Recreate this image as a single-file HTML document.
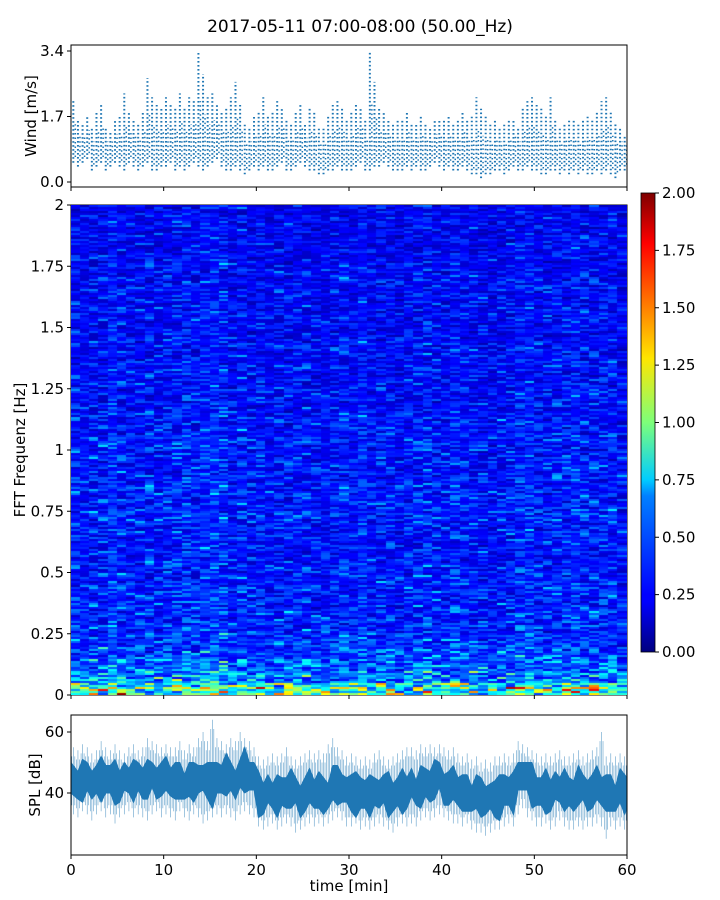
<!DOCTYPE html>
<html><head><meta charset="utf-8">
<style>
body{margin:0;background:#fff;width:720px;height:900px;overflow:hidden;position:relative;font-family:"DejaVu Sans","Liberation Sans",sans-serif;}
svg{position:absolute;left:0;top:0}
canvas{position:absolute;left:71px;top:205px}
text{font-family:"DejaVu Sans","Liberation Sans",sans-serif;fill:#000}
</style></head>
<body>
<svg id="svg" width="720" height="900">
<defs>
<linearGradient id="jet" x1="0" y1="1" x2="0" y2="0">
<stop offset="0" stop-color="#00007f"/><stop offset="0.11" stop-color="#0000ff"/>
<stop offset="0.125" stop-color="#0000ff"/><stop offset="0.34" stop-color="#0080ff"/>
<stop offset="0.375" stop-color="#00ccff"/><stop offset="0.5" stop-color="#7dff7a"/>
<stop offset="0.64" stop-color="#ffe600"/><stop offset="0.75" stop-color="#ff8000"/>
<stop offset="0.89" stop-color="#ff0000"/><stop offset="1" stop-color="#7f0000"/>
</linearGradient>
</defs>
<text x="360" y="32" font-size="17" text-anchor="middle">2017-05-11 07:00-08:00 (50.00_Hz)</text>
<g id="wind"></g>
<g id="spec"></g>
<g id="cbar"></g>
<g id="spl"></g>
</svg>
<canvas id="cv" width="556" height="490"></canvas>
<script>
// ---- data ----
const timeTicks=[0,10,20,30,40,50,60];
const windTicks=[0.0,1.7,3.4];
const windTickLabels=["0.0","1.7","3.4"];
const windLo=[0.5,0.4,0.5,0.6,0.3,0.4,0.5,0.3,0.4,0.5,0.4,0.3,0.5,0.4,0.3,0.4,0.5,0.3,0.3,0.4,
0.4,0.5,0.3,0.4,0.3,0.4,0.5,0.4,0.3,0.4,0.5,0.6,0.4,0.3,0.3,0.4,0.3,0.2,0.3,0.4,
0.3,0.4,0.3,0.3,0.4,0.5,0.3,0.3,0.4,0.5,0.4,0.3,0.3,0.2,0.2,0.3,0.3,0.4,0.3,0.3,
0.3,0.4,0.5,0.3,0.3,0.4,0.4,0.5,0.4,0.3,0.3,0.3,0.4,0.3,0.4,0.3,0.3,0.4,0.5,0.4,
0.3,0.4,0.3,0.3,0.4,0.3,0.2,0.2,0.1,0.2,0.2,0.3,0.3,0.2,0.3,0.4,0.3,0.3,0.4,0.3,
0.3,0.2,0.2,0.3,0.3,0.2,0.3,0.2,0.3,0.2,0.3,0.2,0.2,0.3,0.2,0.3,0.2,0.1,0.3,0.3];
const windHi=[2.1,1.6,1.5,1.7,1.4,1.8,2.0,1.4,1.3,1.6,1.7,2.3,1.8,1.6,1.5,1.8,2.7,2.2,2.0,1.9,
2.2,2.0,1.9,2.3,1.9,2.2,2.1,3.4,2.8,2.2,2.3,2.0,1.8,1.9,2.2,2.6,2.0,1.5,1.4,1.7,
1.8,2.2,1.7,1.8,2.1,1.9,1.6,1.5,1.8,2.0,1.5,1.9,1.8,1.4,1.4,1.7,2.0,2.1,1.9,1.6,
1.8,2.0,1.9,1.6,3.4,2.6,1.9,1.8,1.6,1.5,1.6,1.6,1.8,1.5,1.5,1.7,1.5,1.4,1.6,1.6,
1.6,1.7,1.5,1.6,1.8,1.6,1.7,2.2,1.9,1.7,1.5,1.6,1.4,1.5,1.6,1.6,1.4,1.9,2.1,2.2,
2.0,1.9,1.7,2.2,1.6,1.4,1.5,1.6,1.6,1.5,1.6,1.7,1.6,1.8,2.1,2.2,1.8,1.5,1.4,1.2];
const freqTicks=[0,0.25,0.5,0.75,1,1.25,1.5,1.75,2];
const freqTickLabels=["0","0.25","0.5","0.75","1","1.25","1.5","1.75","2"];
const rowProfile=[0.8,0.55,0.45,0.4,0.37,0.35,0.34,0.33,0.32,0.31,0.31,0.31,0.3,0.31,0.32,0.31,0.32,0.33,0.31,0.3,
0.31,0.3,0.3,0.29,0.29,0.28,0.28,0.27,0.28,0.27,0.28,0.27,0.26,0.27,0.26,0.27,0.26,0.25,0.25,0.24,0.24];
const colFactor=[1.0,1.0,0.95,0.95,1.05,1.0,1.0,1.05,1.0,0.95,1.0,1.05,1.05,1.0,1.0,1.05,1.1,1.0,1.0,1.05,
1.0,0.9,0.95,0.95,0.9,0.95,1.0,1.0,1.05,1.05,1.1,1.0,0.95,0.95,0.9,0.95,1.0,1.0,1.0,1.05,
1.05,1.0,1.0,0.95,0.9,0.95,0.95,1.0,1.05,1.0,1.0,0.95,0.95,0.95,1.0,1.0,1.05,1.0,1.0,1.05];
const texA=[0.8,1.3,0.5,1.0,1.6,0.7,0.9,1.2,0.4,1.1,0.8,1.4,0.6,1.0,1.8,0.9,0.5,1.2,1.0,0.7,
1.3,0.8,1.1,0.6,1.5,0.9,0.7,1.2,1.0,0.5,1.4,0.8,1.1,0.9,0.6,1.3,1.0];
const texB=[1.0,0.8,1.2,0.9,1.1,0.75,1.3,1.0,0.85,1.15,0.9,1.25,0.8,1.05,0.95,1.2,0.7,1.1,1.0,0.9,
1.3,0.85,1.0,1.1,0.8,1.2,0.95,1.05,0.9];
const cbTicks=[0,0.25,0.5,0.75,1,1.25,1.5,1.75,2];
const splTicks=[40,60];
const splMid=[44,43,44,45,44,43,44,45,44,44,43,44,45,44,45,44,43,44,45,45,
45,44,44,45,44,43,44,45,44,44,43,44,45,46,45,44,45,47,46,45,
40,39,40,40,39,40,41,40,39,39,40,41,40,41,40,41,42,43,42,40,
40,40,39,40,39,40,41,40,39,39,40,41,41,42,41,42,43,43,43,44,
43,42,42,41,40,41,40,39,39,38,38,38,39,40,41,40,45,47,44,42,
41,40,41,40,41,42,41,40,40,41,40,41,41,42,41,40,41,40,41,40];
const splMax=[55,54,56,55,53,54,57,55,54,56,54,53,55,56,54,55,58,57,56,55,
56,55,55,57,54,56,55,58,60,57,64,58,57,56,58,57,60,58,57,55,
52,51,52,53,52,53,55,52,51,52,53,54,53,54,53,56,58,55,54,52,
53,52,51,52,51,53,54,52,51,52,53,54,55,55,54,56,55,56,55,56,
55,54,55,53,52,53,51,52,50,51,50,52,52,53,52,53,57,56,55,54,
53,52,53,52,53,54,52,52,53,54,52,53,54,55,60,52,53,52,53,52];
const splMin=[33,32,34,33,31,33,34,32,33,30,32,33,34,32,33,32,31,33,34,32,
33,32,31,34,32,31,33,32,30,31,32,33,32,33,32,31,33,34,33,32,
29,28,29,30,28,29,30,29,27,28,29,30,29,30,29,30,31,32,31,29,
29,30,28,29,28,29,30,29,28,27,29,30,29,30,29,31,32,31,32,33,
32,31,30,30,29,30,28,27,27,26,27,28,28,29,30,29,33,35,32,31,
29,29,30,28,29,31,29,28,28,29,28,29,29,30,29,25,29,28,29,28];
const splJag=[1,-1,2,0,-2,1,3,-1,0,2,-1,1,-2,2,0,-1,3,1,-2,0,2,-1,1,0,-3,2,1,-1,0,1,2];

// ---- helpers ----
const NS="http://www.w3.org/2000/svg";
function mk(parent,tag,attrs,txt){const e=document.createElementNS(NS,tag);for(const k in attrs)e.setAttribute(k,attrs[k]);if(txt!==undefined)e.textContent=txt;parent.appendChild(e);return e;}
const X0=71,X1=627;
const xT=t=>X0+(t/60)*(X1-X0);
const yW=v=>182-v*(182-51)/3.4;
const yF=f=>695-f*245;
const yS=d=>793-(d-40)*(793-732)/20;
const yC=v=>652-v*(652-193)/2;
const BLUE="#1f77b4";

// ---- wind panel ----
const gw=document.getElementById('wind');
const nW=windHi.length, bw=60/nW;
for(let i=0;i<nW;i++){
  const x=xT((i+0.5)*bw);
  const l=mk(gw,'line',{x1:x,x2:x,y1:yW(windLo[i]),y2:yW(windHi[i]),stroke:BLUE,'stroke-width':2,'stroke-dasharray':'1.6,2.4'});
  
  
  const l2=mk(gw,'line',{x1:x+2,x2:x+2,y1:yW(windLo[i]+0.15),y2:yW((windLo[i]+windHi[i])/2+0.2),stroke:BLUE,'stroke-width':1.5,'stroke-dasharray':'1.5,3'});
  
  
}
mk(gw,'rect',{x:X0,y:45,width:X1-X0,height:142,fill:'none',stroke:'#000','stroke-width':1});
windTicks.forEach((v,i)=>{const y=yW(v);mk(gw,'line',{x1:X0-4,x2:X0,y1:y,y2:y,stroke:'#000'});
 const t=mk(gw,'text',{x:X0-7,y:y+5,'font-size':15,'text-anchor':'end'},windTickLabels[i]);
 });
timeTicks.forEach(t=>mk(gw,'line',{x1:xT(t),x2:xT(t),y1:187,y2:191,stroke:'#000'}));
mk(gw,'text',{x:36,y:116,'font-size':15,'text-anchor':'middle',transform:'rotate(-90 36 116)',},'Wind [m/s]');

// ---- spectrogram ----
function jet(x){x=Math.max(0,Math.min(1,x));const c=v=>Math.round(255*Math.max(0,Math.min(1,v)));
 return 'rgb('+c(1.5-Math.abs(4*x-3))+','+c(1.5-Math.abs(4*x-2))+','+c(1.5-Math.abs(4*x-1))+')';}
const cv=document.getElementById('cv'),ctx=cv.getContext('2d');
const nRows=245,nCols=colFactor.length,cw=556/nCols;
for(let c=0;c<nCols;c++){for(let r=0;r<nRows;r++){
  const f=(r+0.5)*2/nRows;
  let base=rowProfile[Math.min(rowProfile.length-1,Math.floor(f/0.05))];
  if(r<4)base=0.95;
  const ia=(r*r*3+c*17+r*c+ (c*c)%11)%texA.length;
  const ib=(r*7+c*c*5+((r*c)>>2))%texB.length;
  const v=base*colFactor[c]*texA[ia]*texB[ib];
  ctx.fillStyle=jet(v/2);
  ctx.fillRect(Math.floor(c*cw),490-(r+1)*2,Math.ceil(cw)+1,2);
}}
const gs=document.getElementById('spec');
mk(gs,'rect',{x:X0,y:205,width:X1-X0,height:490,fill:'none',stroke:'#000'});
freqTicks.forEach((f,i)=>{const y=yF(f);mk(gs,'line',{x1:X0-4,x2:X0,y1:y,y2:y,stroke:'#000'});
 const t=mk(gs,'text',{x:X0-7,y:y+5,'font-size':15,'text-anchor':'end'},freqTickLabels[i]);
 });
timeTicks.forEach(t=>mk(gs,'line',{x1:xT(t),x2:xT(t),y1:695,y2:699,stroke:'#000'}));
mk(gs,'text',{x:25,y:450,'font-size':15,'text-anchor':'middle',transform:'rotate(-90 25 450)',},'FFT Frequenz [Hz]');

// ---- colorbar ----
const gc=document.getElementById('cbar');
mk(gc,'rect',{x:641,y:193,width:14,height:459,fill:'url(#jet)',stroke:'#000','stroke-width':0.8});
cbTicks.forEach(v=>{const y=yC(v);mk(gc,'line',{x1:655,x2:659,y1:y,y2:y,stroke:'#000'});
 const t=mk(gc,'text',{x:662,y:y+5,'font-size':15},v.toFixed(2));
 });

// ---- SPL ----
const gp=document.getElementById('spl');
const mS=splMid.length,sw=60/mS;
for(let i=0;i<mS;i++){
  const x=xT((i+0.5)*sw);
  for(let k=-1;k<=1;k++){
    const l=mk(gp,'line',{x1:x+k*1.5,x2:x+k*1.5,y1:yS(splMin[i]+(k===0?0:3)),y2:yS(splMax[i]-(k===0?0:3)),stroke:BLUE,'stroke-width':0.6,opacity:0.7});
    
    
  }
}
let topPath='',botPath='';
for(let i=0;i<mS;i++){const x=xT(i===0?0:i*sw+sw/2);topPath+=(i?'L':'M')+x+','+yS(splMid[i]+5+splJag[i%splJag.length]);}
topPath+='L'+xT(60)+','+yS(splMid[mS-1]+5);
botPath='L'+xT(60)+','+yS(splMid[mS-1]-5);
for(let i=mS-1;i>=0;i--){const x=xT(i===0?0:i*sw+sw/2);botPath+='L'+x+','+yS(splMid[i]-5-splJag[(i+7)%splJag.length]);}
const area=mk(gp,'path',{d:topPath+botPath+'Z',fill:BLUE,stroke:BLUE,'stroke-width':1});


mk(gp,'rect',{x:X0,y:715,width:X1-X0,height:140,fill:'none',stroke:'#000'});
splTicks.forEach(v=>{const y=yS(v);mk(gp,'line',{x1:X0-4,x2:X0,y1:y,y2:y,stroke:'#000'});
 const t=mk(gp,'text',{x:X0-7,y:y+5,'font-size':15,'text-anchor':'end'},String(v));
 });
timeTicks.forEach(v=>{const x=xT(v);mk(gp,'line',{x1:x,x2:x,y1:855,y2:859,stroke:'#000'});
 const t=mk(gp,'text',{x:x,y:875,'font-size':15,'text-anchor':'middle'},String(v));
 });
mk(gp,'text',{x:40,y:785,'font-size':15,'text-anchor':'middle',transform:'rotate(-90 40 785)',},'SPL [dB]');
mk(gp,'text',{x:349,y:891,'font-size':15,'text-anchor':'middle',},'time [min]');
</script>
</body></html>
